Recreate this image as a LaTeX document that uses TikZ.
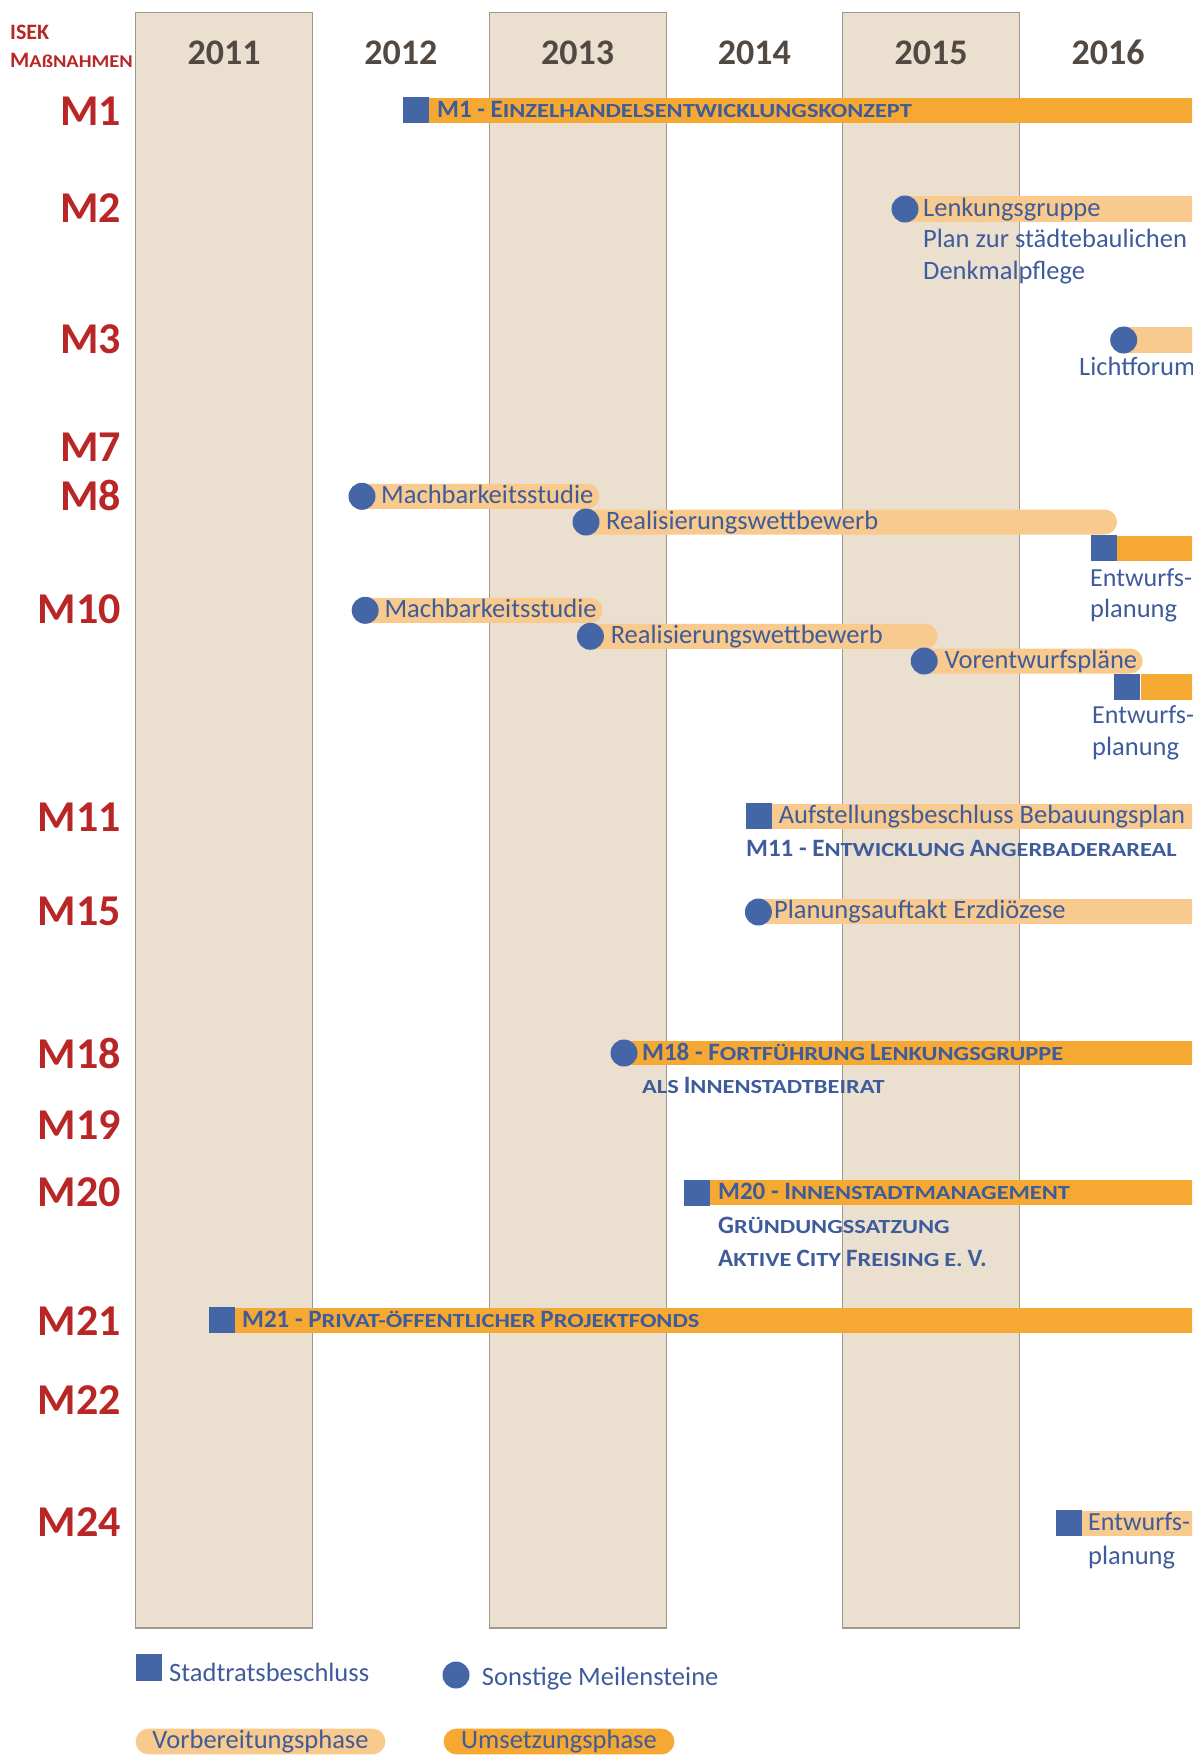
\documentclass[tikz,border=0pt]{standalone}
\usepackage{fontspec}
\usepackage{graphicx}
\setmainfont{Carlito}
\definecolor{colbg}{RGB}{235,224,208}
\definecolor{colline}{RGB}{160,152,142}
\definecolor{yeargray}{RGB}{82,74,66}
\definecolor{mred}{RGB}{185,38,38}
\definecolor{mblue}{RGB}{68,102,166}
\definecolor{tblue}{RGB}{62,92,155}
\definecolor{impl}{RGB}{245,168,50}
\definecolor{prep}{RGB}{248,202,142}
% small caps: capitals at full size, the rest as smaller, wider capitals
\newcommand\BC[1]{{\fontsize{25}{25}\selectfont #1}}
\newcommand\SC[1]{\scalebox{1.22}[1]{\fontsize{20}{20}\selectfont #1}}
\tikzset{
  yearcol/.style={fill=colbg, draw=colline, line width=1.3pt},
  yearlbl/.style={anchor=base, inner sep=0, text=yeargray, font=\fontsize{36}{36}\selectfont\bfseries},
  mlbl/.style={anchor=base east, inner sep=0, text=mred, font=\fontsize{44}{44}\selectfont\bfseries},
  decision/.style={fill=mblue, inner sep=0, minimum size=26pt, draw=none},
  milestone/.style={circle, fill=mblue, inner sep=0, minimum size=27pt, draw=none},
  prepbar/.style={fill=prep},
  implbar/.style={fill=impl},
  txt/.style={anchor=base west, inner sep=0, text=tblue, font=\fontsize{26.5}{26.5}\selectfont},
  head/.style={anchor=base west, inner sep=0, text=tblue, font=\bfseries\fontsize{22}{22}\selectfont},
}
\begin{document}
\begin{tikzpicture}[x=1pt,y=-1pt]
\useasboundingbox (0,0) rectangle (1192,1756);
\clip (0,0) rectangle (1192,1756);

% year columns
\foreach \cx in {135.6,489.6,842.5}
  \draw[yearcol] (\cx,12.3) rectangle ++(177,1615.7);
\foreach \yr [count=\i from 0] in {2011,2012,2013,2014,2015,2016}
  \node[yearlbl] (y\yr) at ({224+176.8*\i},64) {\yr};

% header
\node[anchor=base west, inner sep=0, text=mred, font=\bfseries\fontsize{22}{22}\selectfont] (isek) at (10,39.2) {ISEK};
\node[anchor=base west, inner sep=0, text=mred, font=\bfseries] (massn) at (10,67.2)
  {{\fontsize{22}{22}\selectfont M}\scalebox{1.13}[1]{\fontsize{18}{18}\selectfont AßNAHMEN}};

% measure labels
\foreach \m/\yy in {M1/109.8, M2/207.3, M3/338.3, M7/445.9, M8/495.2, M10/608.3,
    M11/815.6, M15/909.7, M18/1053.1, M19/1123.7, M20/1190.9, M21/1319.7,
    M22/1399.3, M24/1521.4}
  \node[mlbl] (l\m) at (121,\yy+15.5) {\m};

% ---- bars ----
% M1
\fill[implbar] (429,97.5) rectangle (1200,123.1);
% M2
\fill[prepbar] (905,196.2) rectangle (1200,221.8);
% M3
\fill[prepbar] (1123.7,327.2) rectangle (1200,352.8);
% M8
\fill[prepbar, rounded corners=12.5pt] (350,483.8) rectangle (599.4,508.8);
\fill[prepbar, rounded corners=12.5pt] (574,509.5) rectangle (1117,534.5);
\fill[implbar] (1117,535.5) rectangle (1200,561);
% M10
\fill[prepbar, rounded corners=12.5pt] (353,597.8) rectangle (602.7,622.8);
\fill[prepbar, rounded corners=12.5pt] (578,623.8) rectangle (937.7,648.8);
\fill[prepbar, rounded corners=12.5pt] (912,648.5) rectangle (1142.7,673.5);
\fill[implbar] (1140.5,674.4) rectangle (1200,700);
% M11
\fill[prepbar] (772,803.5) rectangle (1200,828.5);
% M15
\fill[prepbar] (758.4,899.3) rectangle (1200,924.3);
% M18
\fill[implbar] (624,1040.8) rectangle (1200,1065.4);
% M20
\fill[implbar] (710,1180) rectangle (1200,1205);
% M21
\fill[implbar] (235.3,1307.7) rectangle (1200,1332.7);
% M24
\fill[prepbar] (1082.2,1510.5) rectangle (1200,1535.5);

% ---- markers ----
\node[decision] (d1) at (416,110.3) {};
\node[milestone] (s2) at (905,209) {};
\node[milestone] (s3) at (1123.7,340) {};
\node[milestone] (s8a) at (362,496.3) {};
\node[milestone] (s8b) at (586,522) {};
\node[decision] (d8) at (1104,548.3) {};
\node[milestone] (s10a) at (365.2,610.3) {};
\node[milestone] (s10b) at (590.4,636.3) {};
\node[milestone] (s10c) at (924.2,661) {};
\node[decision] (d10) at (1127,687.2) {};
\node[decision] (d11) at (759,816) {};
\node[milestone] (s15) at (758.4,912) {};
\node[milestone] (s18) at (624,1053) {};
\node[decision] (d20) at (697.3,1192.5) {};
\node[decision] (d21) at (222.4,1320.2) {};
\node[decision] (d24) at (1069.3,1523) {};

% ---- texts ----
\node[head] (t1) at (437,117.3) {\BC{M1 - E}\SC{INZELHANDELSENTWICKLUNGSKONZEPT}};
\node[txt] (t2a) at (923,216) {Lenkungsgruppe};
\node[txt] (t2b) at (923,247.6) {Plan zur städtebaulichen};
\node[txt] (t2c) at (923,279) {Denkmalpflege};
\node[txt] (t3) at (1079,375) {Lichtforum};
\node[txt] (t8a) at (381,503) {Machbarkeitsstudie};
\node[txt] (t8b) at (606,529) {Realisierungswettbewerb};
\node[txt, font=\fontsize{26}{26}\selectfont] (t8c) at (1090,586) {Entwurfs-};
\node[txt] (t8d) at (1090,617) {planung};
\node[txt] (t10a) at (384.3,617) {Machbarkeitsstudie};
\node[txt] (t10b) at (610.6,643) {Realisierungswettbewerb};
\node[txt] (t10c) at (944.4,668) {Vorentwurfspläne};
\node[txt, font=\fontsize{26}{26}\selectfont] (t10d) at (1092,723.7) {Entwurfs-};
\node[txt] (t10e) at (1092,755) {planung};
\node[txt] (t11a) at (778.6,823) {Aufstellungsbeschluss Bebauungsplan};
\node[head] (t11b) at (746,856) {\BC{M11 - E}\SC{NTWICKLUNG} \BC{A}\SC{NGERBADERAREAL}};
\node[txt] (t15) at (774,918.3) {Planungsauftakt Erzdiözese};
\node[head] (t18a) at (642,1060) {\BC{M18 - F}\SC{ORTFÜHRUNG} \BC{L}\SC{ENKUNGSGRUPPE}};
\node[head] (t18b) at (642,1093.4) {\SC{ALS} \BC{I}\SC{NNENSTADTBEIRAT}};
\node[head] (t20a) at (718,1199.5) {\BC{M20 - I}\SC{NNENSTADTMANAGEMENT}};
\node[head] (t20b) at (718,1233.5) {\BC{G}\SC{RÜNDUNGSSATZUNG}};
\node[head] (t20c) at (718,1266) {\BC{A}\SC{KTIVE} \BC{C}\SC{ITY} \BC{F}\SC{REISING} \SC{E.} \BC{V.}};
\node[head] (t21) at (242,1327.2) {\BC{M21 - P}\SC{RIVAT-ÖFFENTLICHER} \BC{P}\SC{ROJEKTFONDS}};
\node[txt, font=\fontsize{26}{26}\selectfont] (t24a) at (1088,1530.5) {Entwurfs-};
\node[txt] (t24b) at (1088,1564) {planung};

% ---- legend ----
\node[decision, minimum size=26.8pt] (kd) at (149,1667.6) {};
\node[txt] (kdt) at (169,1681.6) {Stadtratsbeschluss};
\node[milestone] (ks) at (456,1675) {};
\node[txt] (kst) at (481.7,1685) {Sonstige Meilensteine};
\fill[prepbar, rounded corners=12.9pt] (135.6,1728.6) rectangle (385.4,1754.4);
\node[txt, anchor=base] (kp) at (260.5,1748.5) {Vorbereitungsphase};
\fill[implbar, rounded corners=12.9pt] (443.6,1728.6) rectangle (674.4,1754.4);
\node[txt, anchor=base] (ki) at (559,1748.5) {Umsetzungsphase};
\end{tikzpicture}
\end{document}
